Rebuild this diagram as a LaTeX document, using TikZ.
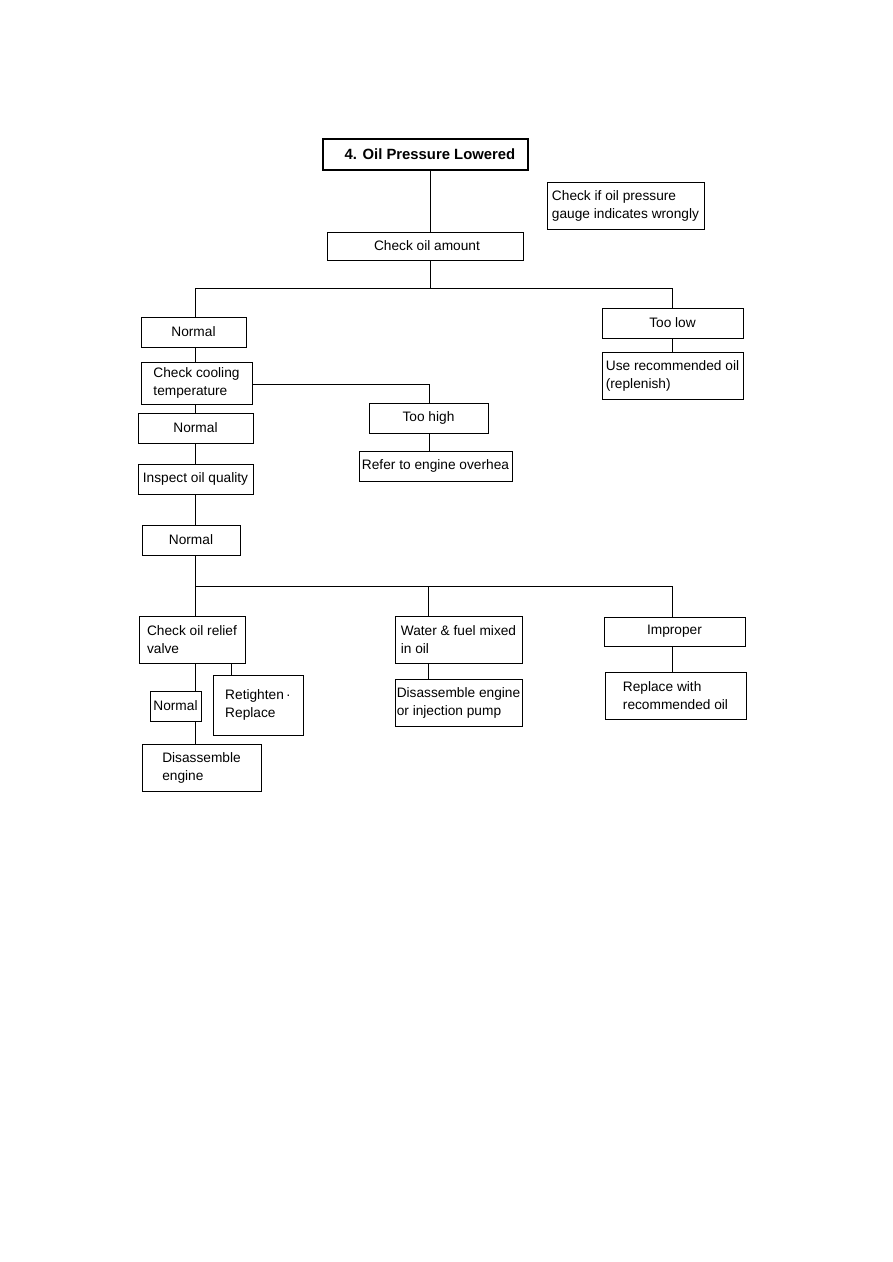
\documentclass[tikz,border=0pt]{standalone}
\usepackage{fontspec}
\setmainfont{Liberation Sans}
\begin{document}
\begin{tikzpicture}[x=0.02cm,y=-0.02cm,
  box/.style={draw, line width=0.55pt, inner sep=0pt, align=left,
    font=\fontsize{7.8}{10.2}\selectfont},
  sz/.style 2 args={minimum width=#1*0.02cm, minimum height=#2*0.02cm},
  titlebox/.style={draw, line width=1.2pt, inner sep=0pt,
    font=\fontsize{8.45}{10}\selectfont\bfseries},
  conn/.style={line width=0.5pt}]
\useasboundingbox (0,0) rectangle (893,1262);
\fill[white] (0,0) rectangle (893,1262);

\node[titlebox, sz={205}{31}] (t) at (425.5,154.5) {\hspace*{9\dimexpr0.02cm\relax}4. Oil Pressure Lowered};
\node[box, sz={157}{47}] (gauge) at (625.5,205.5) {Check if oil pressure\\gauge indicates wrongly};
\node[box, sz={196}{28}] (amount) at (425,246) {\hspace*{4\dimexpr0.02cm\relax}Check oil amount};
\node[box, sz={105}{30}] (n1) at (193.5,332) {Normal};
\node[box, sz={141}{30}] (toolow) at (672.5,323) {Too low};
\node[box, sz={141}{47}] (userec) at (672.5,375.5) {Use recommended oil\\(replenish)};
\node[box, sz={111}{42}] (cool) at (196.5,383) {Check cooling\\temperature};
\node[box, sz={119}{30}] (toohigh) at (428.5,418) {Too high};
\node[box, sz={153}{30}] (refer) at (435.5,466) {Refer to engine overhea};
\node[box, sz={115}{30}] (n2) at (195.5,428) {Normal};
\node[box, sz={115}{30}] (insp) at (195.5,479) {Inspect oil quality};
\node[box, sz={98}{30}] (n3) at (191,540) {Normal};
\node[box, sz={106}{47}] (relief) at (192,639.5) {Check oil relief\\valve};
\node[box, sz={127}{47}] (water) at (458.5,639.5) {Water \& fuel mixed\\in oil};
\node[box, sz={141}{29}] (impr) at (674.5,631.5) {Improper};
\node[box, sz={127}{47}] (disinj) at (458.5,702.5) {Disassemble engine\\or injection pump};
\node[box, sz={141}{47}] (replace) at (675.5,695.5) {Replace with\\recommended oil};
\node[box, sz={51}{30}] (n4) at (175.5,706) {Normal};
\node[box, sz={90}{60}] (retight) at (258,705) {Retighten\,·\\Replace};
\node[box, sz={119}{47}] (disen) at (201.5,767.5) {Disassemble\\engine};

\coordinate (j1) at (430,288);
\coordinate (a) at (195,288);
\coordinate (b) at (672,288);
\coordinate (h) at (429,384);
\coordinate (d) at (195,586);
\coordinate (e) at (428,586);
\coordinate (f) at (672,586);
\coordinate (g) at (231,669);

\draw[conn] (t.south -| j1) -- (amount.north -| j1);
\draw[conn] (amount.south -| j1) -- (j1);
\draw[conn] (n1.north -| a) -- (a) -- (b) -- (toolow.north -| b);
\draw[conn] (toolow.south -| b) -- (userec.north -| b);
\draw[conn] (n1.south -| a) -- (cool.north -| a);
\draw[conn] (cool.east |- h) -- (h) -- (toohigh.north -| h);
\draw[conn] (toohigh.south -| h) -- (refer.north -| h);
\draw[conn] (cool.south -| a) -- (n2.north -| a);
\draw[conn] (n2.south -| a) -- (insp.north -| a);
\draw[conn] (insp.south -| a) -- (n3.north -| a);
\draw[conn] (n3.south -| d) -- (d) -- (f) -- (impr.north -| f);
\draw[conn] (e) -- (water.north -| e);
\draw[conn] (d) -- (relief.north -| d);
\draw[conn] (water.south -| e) -- (disinj.north -| e);
\draw[conn] (impr.south -| f) -- (replace.north -| f);
\draw[conn] (relief.south -| d) -- (n4.north -| d);
\draw[conn] (n4.south -| d) -- (disen.north -| d);
\draw[conn] (relief.south -| g) -- (retight.north -| g);
\end{tikzpicture}
\end{document}
